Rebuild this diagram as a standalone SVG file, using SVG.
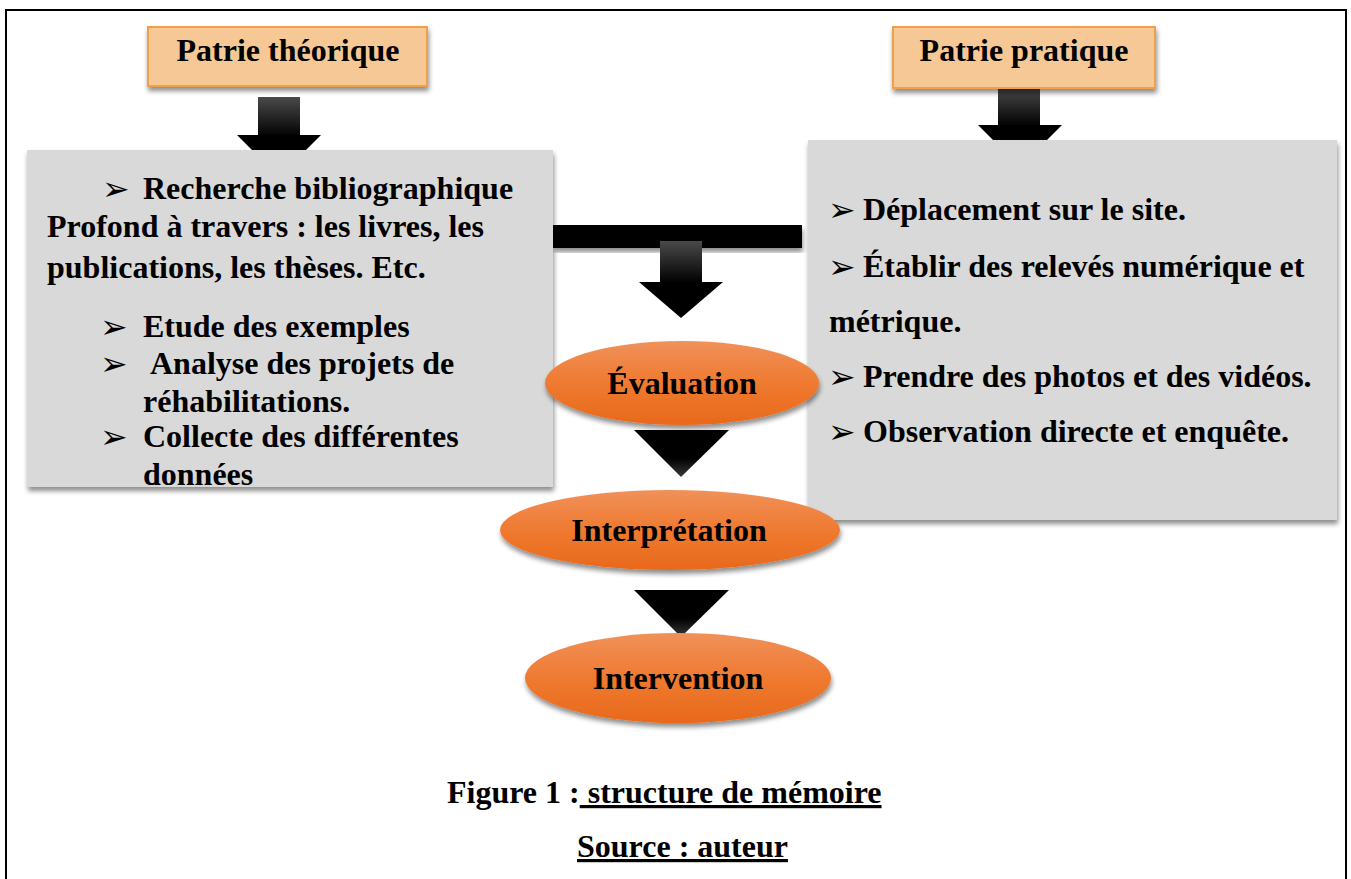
<svg xmlns="http://www.w3.org/2000/svg" width="1351" height="879" viewBox="0 0 1351 879">
<defs>
<linearGradient id="gOrange" x1="0" y1="0" x2="0" y2="1">
<stop offset="0" stop-color="#f0915a"/>
<stop offset="0.5" stop-color="#ef7a30"/>
<stop offset="1" stop-color="#e8691c"/>
</linearGradient>
<linearGradient id="gShaft" x1="0" y1="0" x2="0" y2="1">
<stop offset="0" stop-color="#4a4a4a"/>
<stop offset="1" stop-color="#000"/>
</linearGradient>
<linearGradient id="gTri" x1="0" y1="0" x2="0" y2="1">
<stop offset="0" stop-color="#000"/>
<stop offset="0.6" stop-color="#000"/>
<stop offset="1" stop-color="#3a3a3a"/>
</linearGradient>
<filter id="sh" x="-10%" y="-10%" width="125%" height="130%">
<feGaussianBlur in="SourceAlpha" stdDeviation="2.5"/>
<feOffset dx="1" dy="4" result="b"/>
<feComponentTransfer><feFuncA type="linear" slope="0.45"/></feComponentTransfer>
<feMerge><feMergeNode/><feMergeNode in="SourceGraphic"/></feMerge>
</filter>
</defs>
<style>
text{font-family:"Liberation Serif","Times New Roman",serif;font-weight:bold;fill:#000;font-size:32px}
.bul{font-family:"DejaVu Sans",sans-serif;font-weight:normal;font-size:33px}
.title{fill:#f5c895;stroke:#f0a04a;stroke-width:2}
.grey{fill:#d9d9d9}
.oval{fill:url(#gOrange)}
.c{text-anchor:middle}
</style>
<rect x="0" y="0" width="1351" height="879" fill="#fff"/>
<rect x="6" y="10" width="1340" height="880" fill="none" stroke="#000" stroke-width="2"/>

<g id="connectors">
<rect x="258" y="97" width="42" height="40" fill="url(#gShaft)"/>
<polygon points="237,135 321,135 279,177" fill="#000"/>
<rect x="998" y="87" width="42" height="40" fill="url(#gShaft)"/>
<polygon points="978,125 1062,125 1020,167" fill="#000"/>
<rect x="553" y="225" width="249" height="23" fill="#000" filter="url(#sh)"/>
<rect x="660" y="241" width="42" height="42" fill="url(#gShaft)"/>
<polygon points="639,282 723,282 681,318" fill="#000"/>
<polygon points="634,430 729,430 681,477" fill="url(#gTri)"/>
<polygon points="634,590 729,590 681,637" fill="url(#gTri)"/>
</g>

<g id="n-theorique">
<rect class="title" x="148" y="27" width="279" height="59" filter="url(#sh)"/>
<text class="c" x="288" y="61">Patrie théorique</text>
</g>
<g id="n-pratique">
<rect class="title" x="893" y="27" width="262" height="61" filter="url(#sh)"/>
<text class="c" x="1024" y="61">Patrie pratique</text>
</g>

<g id="n-gauche">
<rect class="grey" x="27" y="150" width="526" height="337" filter="url(#sh)"/>
<text class="bul" x="102" y="200">➢</text>
<text x="143" y="199">Recherche bibliographique</text>
<text x="47" y="237">Profond à travers : les livres, les</text>
<text x="47" y="278">publications, les thèses. Etc.</text>
<text class="bul" x="100" y="338">➢</text>
<text x="143" y="337">Etude des exemples</text>
<text class="bul" x="100" y="375">➢</text>
<text x="150" y="374">Analyse des projets de</text>
<text x="143" y="412">réhabilitations.</text>
<text class="bul" x="100" y="448">➢</text>
<text x="143" y="447">Collecte des différentes</text>
<text x="143" y="485">données</text>
</g>

<g id="n-droite">
<rect class="grey" x="808" y="140" width="529" height="380" filter="url(#sh)"/>
<text class="bul" x="828" y="221">➢</text>
<text x="863" y="220">Déplacement sur le site.</text>
<text class="bul" x="828" y="278">➢</text>
<text x="863" y="277">Établir des relevés numérique et</text>
<text x="829" y="332">métrique.</text>
<text class="bul" x="828" y="388">➢</text>
<text x="863" y="387">Prendre des photos et des vidéos.</text>
<text class="bul" x="828" y="443">➢</text>
<text x="863" y="442">Observation directe et enquête.</text>
</g>

<g id="n-evaluation">
<ellipse class="oval" cx="682" cy="383" rx="137" ry="42" filter="url(#sh)"/>
<text class="c" x="682" y="394">Évaluation</text>
</g>
<g id="n-interpretation">
<ellipse class="oval" cx="670" cy="530" rx="170" ry="40" filter="url(#sh)"/>
<text class="c" x="669" y="541">Interprétation</text>
</g>
<g id="n-intervention">
<ellipse class="oval" cx="678" cy="678" rx="153" ry="45" filter="url(#sh)"/>
<text class="c" x="678" y="689">Intervention</text>
</g>

<g id="caption">
<text x="447" y="803">Figure 1 :<tspan text-decoration="underline"> structure de mémoire</tspan></text>
<text x="577" y="857" text-decoration="underline">Source : auteur</text>
</g>
</svg>
